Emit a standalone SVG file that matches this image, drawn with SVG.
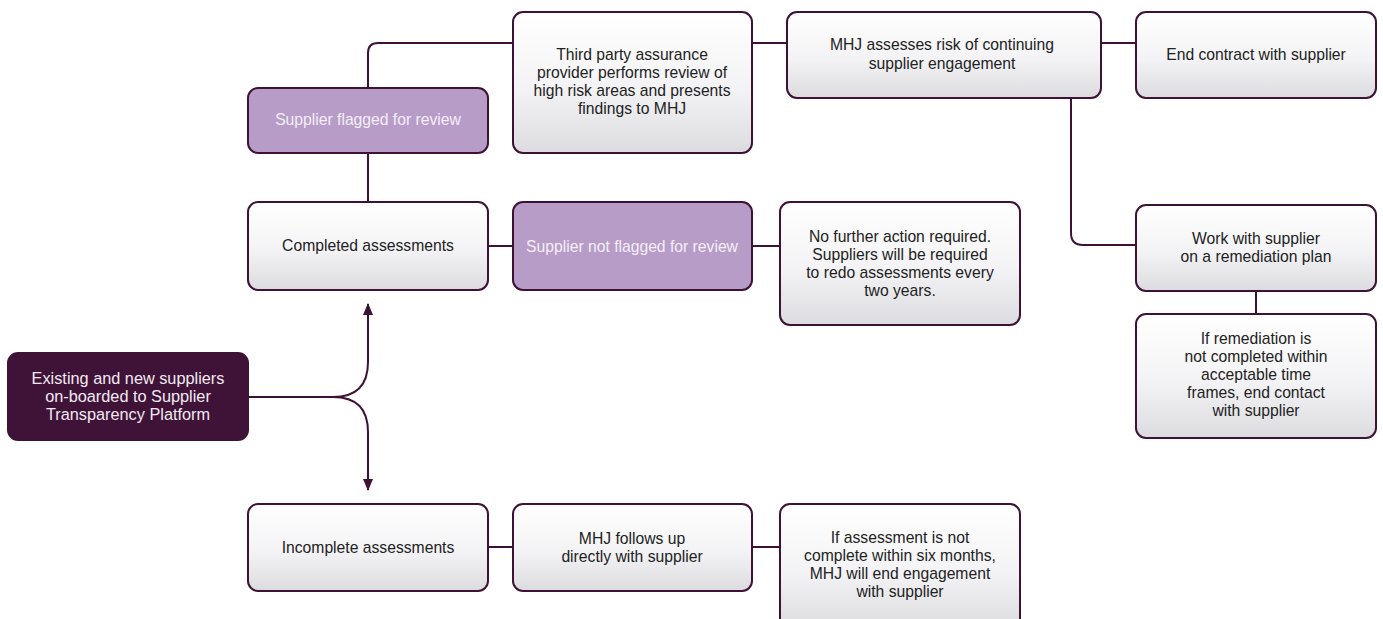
<svg xmlns="http://www.w3.org/2000/svg" width="1383" height="619" viewBox="0 0 1383 619">
<defs>
<linearGradient id="g" x1="0" y1="0" x2="0" y2="1">
<stop offset="0" stop-color="#ffffff"/>
<stop offset="0.55" stop-color="#f3f3f5"/>
<stop offset="1" stop-color="#dcdce0"/>
</linearGradient>
<marker id="ah" viewBox="0 0 12 10" refX="11" refY="5" markerWidth="12" markerHeight="10" markerUnits="userSpaceOnUse" orient="auto">
<path d="M0,0 L12,5 L0,10 Z" fill="#3d1236"/>
</marker>
<style>
.box{fill:url(#g);stroke:#3d1236;stroke-width:2}
.pur{fill:#b89cc8;stroke:#3d1236;stroke-width:2}
.dark{fill:#3f1238;stroke:#3f1238;stroke-width:2}
text{font-family:"Liberation Sans",Arial,sans-serif;font-size:15.7px;text-anchor:middle;fill:#222}
.lt{fill:#f4eef7}
.wt{fill:#f2eaf0;font-size:16.3px}
.c{fill:none;stroke:#3d1236;stroke-width:2}
</style>
</defs>
<rect width="1383" height="619" fill="#ffffff"/>
<g id="connectors">
<path class="c" d="M248,397 H333 Q368,397 368,362 V304" marker-end="url(#ah)"/>
<path class="c" d="M333,397 Q368,397 368,432 V490" marker-end="url(#ah)"/>
<path class="c" d="M368,88 V53 Q368,43 378,43 H513"/>
<path class="c" d="M368,153 V202"/>
<path class="c" d="M752,43 H787"/>
<path class="c" d="M1101,43 H1136"/>
<path class="c" d="M1071,98 V233 Q1071,245 1083,245 H1136"/>
<path class="c" d="M1256,291 V314"/>
<path class="c" d="M488,246 H513"/>
<path class="c" d="M752,246 H780"/>
<path class="c" d="M488,547 H513"/>
<path class="c" d="M752,547 H780"/>
</g>
<g id="n-start"><rect class="dark" x="8" y="353" width="240" height="87" rx="10"/>
<text class="wt" x="128" y="384">Existing and new suppliers</text><text class="wt" x="128" y="402">on-boarded to Supplier</text><text class="wt" x="128" y="420">Transparency Platform</text></g>
<g id="n-flagged"><rect class="pur" x="248" y="88" width="240" height="65" rx="10"/>
<text class="lt" x="368" y="125">Supplier flagged for review</text></g>
<g id="n-third"><rect class="box" x="513" y="12" width="239" height="141" rx="10"/>
<text x="632" y="60">Third party assurance</text><text x="632" y="78">provider performs review of</text><text x="632" y="96">high risk areas and presents</text><text x="632" y="114">findings to MHJ</text></g>
<g id="n-assess"><rect class="box" x="787" y="12" width="314" height="86" rx="10"/>
<text x="942" y="50">MHJ assesses risk of continuing</text><text x="942" y="69">supplier engagement</text></g>
<g id="n-end"><rect class="box" x="1136" y="12" width="240" height="86" rx="10"/>
<text x="1256" y="60">End contract with supplier</text></g>
<g id="n-completed"><rect class="box" x="248" y="202" width="240" height="88" rx="10"/>
<text x="368" y="251">Completed assessments</text></g>
<g id="n-notflagged"><rect class="pur" x="513" y="202" width="239" height="88" rx="10"/>
<text class="lt" x="632" y="252">Supplier not flagged for review</text></g>
<g id="n-nofurther"><rect class="box" x="780" y="202" width="240" height="123" rx="10"/>
<text x="900" y="242">No further action required.</text><text x="900" y="260">Suppliers will be required</text><text x="900" y="278">to redo assessments every</text><text x="900" y="296">two years.</text></g>
<g id="n-work"><rect class="box" x="1136" y="205" width="240" height="86" rx="10"/>
<text x="1256" y="244">Work with supplier</text><text x="1256" y="262">on a remediation plan</text></g>
<g id="n-remed"><rect class="box" x="1136" y="314" width="240" height="124" rx="10"/>
<text x="1256" y="344">If remediation is</text><text x="1256" y="362">not completed within</text><text x="1256" y="380">acceptable time</text><text x="1256" y="398">frames, end contact</text><text x="1256" y="416">with supplier</text></g>
<g id="n-incomplete"><rect class="box" x="248" y="504" width="240" height="87" rx="10"/>
<text x="368" y="553">Incomplete assessments</text></g>
<g id="n-follow"><rect class="box" x="513" y="504" width="239" height="87" rx="10"/>
<text x="632" y="544">MHJ follows up</text><text x="632" y="562">directly with supplier</text></g>
<g id="n-ifassess"><rect class="box" x="780" y="504" width="240" height="125" rx="10"/>
<text x="900" y="543">If assessment is not</text><text x="900" y="561">complete within six months,</text><text x="900" y="579">MHJ will end engagement</text><text x="900" y="597">with supplier</text></g>
</svg>
